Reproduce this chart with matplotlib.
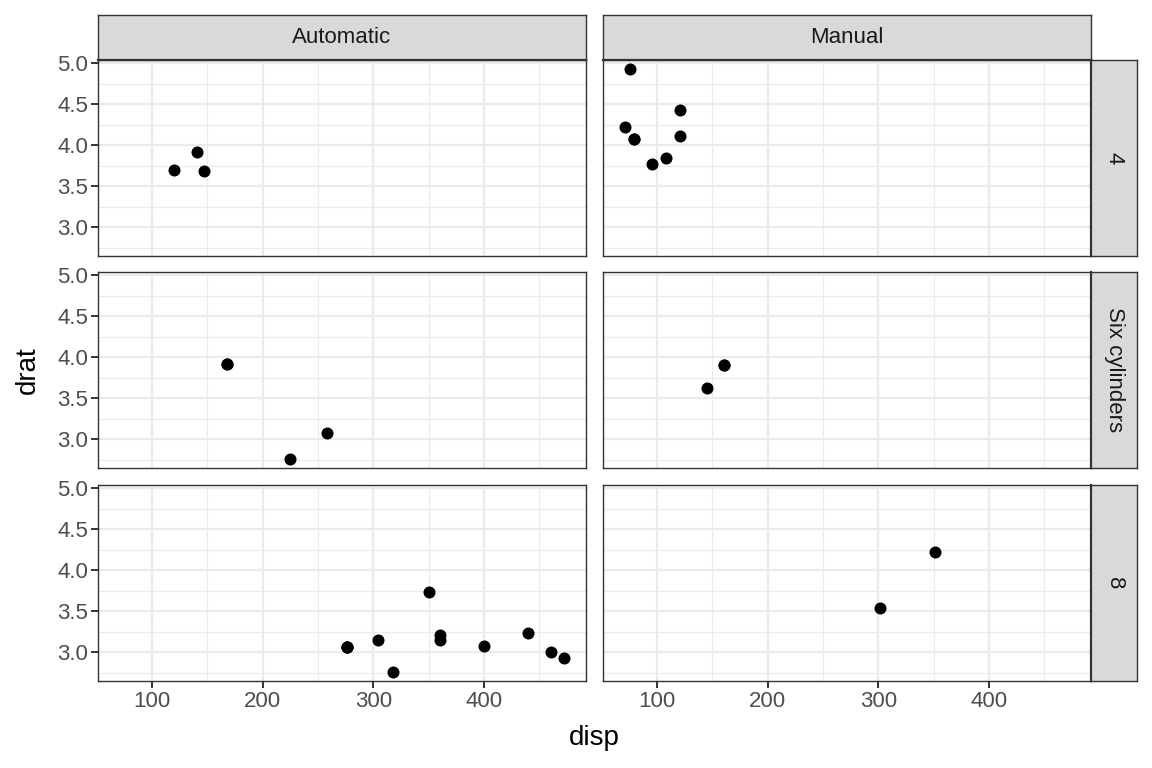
import matplotlib
matplotlib.use("Agg")
import matplotlib.pyplot as plt
import numpy as np

plt.rcParams['font.family'] = ['Liberation Sans', 'DejaVu Sans']

# mtcars subset: disp, drat, cyl, am
disp = [160, 160, 108, 258, 360, 225, 360, 146.7, 140.8, 167.6, 167.6, 275.8, 275.8, 275.8,
        472, 460, 440, 78.7, 75.7, 71.1, 120.1, 318, 304, 350, 400, 79, 120.3, 95.1, 351,
        145, 301, 121]
drat = [3.90, 3.90, 3.85, 3.08, 3.15, 2.76, 3.21, 3.69, 3.92, 3.92, 3.92, 3.07, 3.07, 3.07,
        2.93, 3.00, 3.23, 4.08, 4.93, 4.22, 3.70, 2.76, 3.15, 3.73, 3.08, 4.08, 4.43, 3.77, 4.22,
        3.62, 3.54, 4.11]
cyl = [6, 6, 4, 6, 8, 6, 8, 4, 4, 6, 6, 8, 8, 8, 8, 8, 8, 4, 4, 4, 4, 8, 8, 8, 8, 4, 4, 4, 8,
       6, 8, 4]
am = [1, 1, 1, 0, 0, 0, 0, 0, 0, 0, 0, 0, 0, 0, 0, 0, 0, 1, 1, 1, 0, 0, 0, 0, 0, 1, 1, 1, 1,
      1, 1, 1]

col_levels = [0, 1]
col_labels = ["Automatic", "Manual"]
row_levels = [4, 6, 8]
row_labels = ["4", "Six cylinders", "8"]

x_ticks = [100, 200, 300, 400]
y_ticks = [3.0, 3.5, 4.0, 4.5, 5.0]

disp = np.array(disp)
drat = np.array(drat)
cyl = np.array(cyl)
am = np.array(am)

W, H = 1152, 768
fig = plt.figure(figsize=(W / 100, H / 100), dpi=100)

xr = disp.max() - disp.min()
xlim = (disp.min() - 0.05 * xr, disp.max() + 0.05 * xr)
yr = drat.max() - drat.min()
ylim = (drat.min() - 0.05 * yr, drat.max() + 0.05 * yr)

col_x = [(98, 586), (603, 1091)]
row_y = [(60, 256), (272, 468), (485, 681)]
strip_top = 15
strip_right = 1137

border = "#333333"
grid_col = "#EBEBEB"
strip_fill = "#D9D9D9"


def ax_at(x0, y0, x1, y1):
    return fig.add_axes([x0 / W, 1 - y1 / H, (x1 - x0) / W, (y1 - y0) / H])


for ri, rv in enumerate(row_levels):
    for ci, cv in enumerate(col_levels):
        x0, x1 = col_x[ci]
        y0, y1 = row_y[ri]
        ax = ax_at(x0, y0, x1, y1)
        m = (cyl == rv) & (am == cv)
        ax.scatter(disp[m], drat[m], s=75, color="black", zorder=3, linewidths=0)
        ax.set_xlim(xlim)
        ax.set_ylim(ylim)
        ax.set_xticks(x_ticks)
        ax.set_yticks(y_ticks)
        ax.set_xticks([150, 250, 350, 450], minor=True)
        ax.set_yticks([2.75, 3.25, 3.75, 4.25, 4.75], minor=True)
        ax.grid(True, which="major", color=grid_col, linewidth=1.6, zorder=0)
        ax.grid(True, which="minor", color=grid_col, linewidth=0.8, zorder=0)
        ax.set_axisbelow(True)
        for sp in ax.spines.values():
            sp.set_color(border)
            sp.set_linewidth(1.0)
        ax.tick_params(which="minor", length=0)
        ax.tick_params(which="major", length=5, width=1.4, color=border,
                       labelsize=16, labelcolor="#4D4D4D", pad=2)
        if ci == 0:
            ax.set_yticklabels([f"{v:.1f}" for v in y_ticks])
        else:
            ax.tick_params(axis="y", length=0, labelleft=False)
        if ri == len(row_levels) - 1:
            ax.set_xticklabels([str(v) for v in x_ticks])
        else:
            ax.tick_params(axis="x", length=0, labelbottom=False)

        # top strips
        if ri == 0:
            sax = ax_at(x0, strip_top, x1, y0)
            sax.set_facecolor(strip_fill)
            sax.set_xticks([])
            sax.set_yticks([])
            for sp in sax.spines.values():
                sp.set_color(border)
                sp.set_linewidth(1.0)
            sax.spines["bottom"].set_linewidth(1.6)
            sax.text(0.5, 0.5, col_labels[ci], ha="center", va="center",
                     fontsize=16, color="#1A1A1A", transform=sax.transAxes)
        # right strips
        if ci == len(col_levels) - 1:
            sax = ax_at(x1, y0, strip_right, y1)
            sax.set_facecolor(strip_fill)
            sax.set_xticks([])
            sax.set_yticks([])
            for sp in sax.spines.values():
                sp.set_color(border)
                sp.set_linewidth(1.0)
            sax.spines["left"].set_linewidth(1.6)
            sax.text(0.5, 0.5, row_labels[ri], ha="center", va="center",
                     rotation=-90, fontsize=16, color="#1A1A1A", transform=sax.transAxes)

fig.text((98 + 1091) / 2 / W, 1 - 738 / H, "disp", ha="center", va="center", fontsize=20)
fig.text(28 / W, 1 - 370 / H, "drat", ha="center", va="center", rotation=90, fontsize=20)

fig.savefig("out.png", dpi=100)
